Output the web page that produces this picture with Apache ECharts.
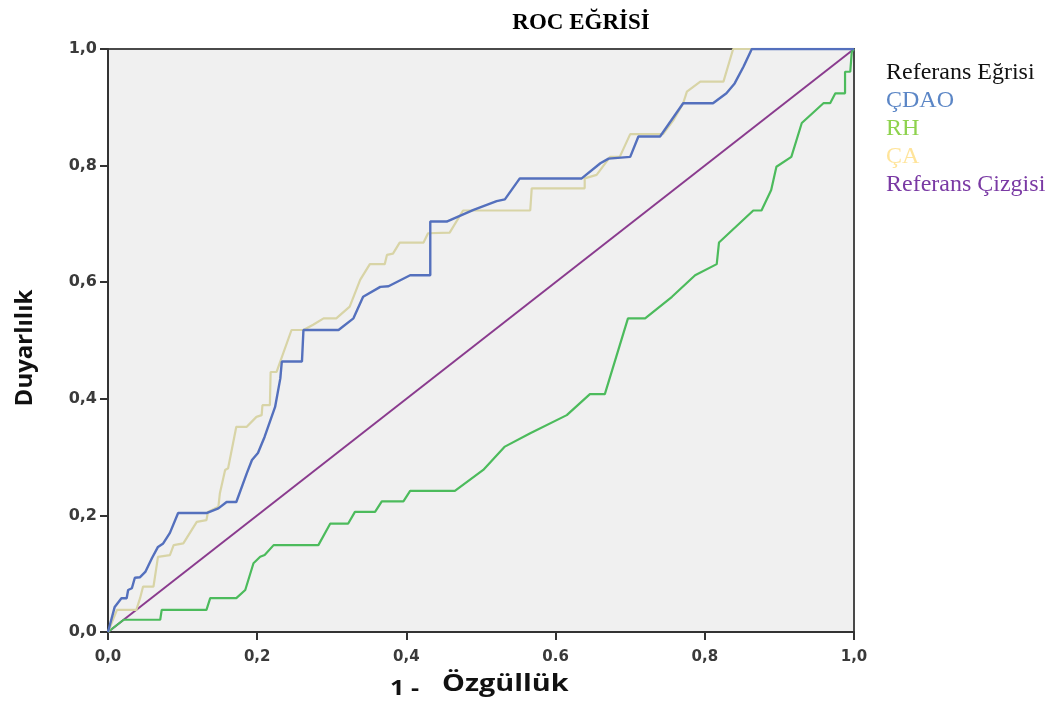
<!DOCTYPE html>
<html>
<head>
<meta charset="utf-8">
<script src="https://cdn.jsdelivr.net/npm/echarts@6/dist/echarts.min.js"></script>
<style>html,body{margin:0;padding:0;background:#fff;}#c{width:1054px;height:704px;}</style>
</head>
<body>
<div id="c"></div>
<script>
const xTickLabels = {0:'0,0', 0.2:'0,2', 0.4:'0,4', 0.6:'0.6', 0.8:'0,8', 1:'1,0'};
const yTickLabels = {0:'0,0', 0.2:'0,2', 0.4:'0,4', 0.6:'0,6', 0.8:'0,8', 1:'1,0'};

const cdaoX = [0, 0.009, 0.018, 0.025, 0.027, 0.032, 0.036, 0.043, 0.05, 0.059, 0.067, 0.074, 0.083, 0.094, 0.132, 0.148, 0.159, 0.172, 0.186, 0.193, 0.201, 0.21, 0.224, 0.231, 0.233, 0.26, 0.262, 0.309, 0.329, 0.342, 0.365, 0.376, 0.405, 0.432, 0.432, 0.454, 0.49, 0.521, 0.532, 0.552, 0.635, 0.66, 0.671, 0.7, 0.711, 0.74, 0.771, 0.811, 0.829, 0.84, 0.852, 0.863, 1];
const cdaoY = [0, 0.043, 0.058, 0.058, 0.072, 0.075, 0.093, 0.094, 0.103, 0.127, 0.146, 0.152, 0.17, 0.204, 0.204, 0.212, 0.223, 0.223, 0.272, 0.295, 0.307, 0.335, 0.386, 0.435, 0.464, 0.464, 0.518, 0.518, 0.538, 0.575, 0.592, 0.593, 0.612, 0.612, 0.704, 0.704, 0.724, 0.739, 0.742, 0.778, 0.778, 0.804, 0.812, 0.815, 0.85, 0.85, 0.907, 0.907, 0.924, 0.941, 0.97, 1, 1];

const caX = [0, 0.012, 0.038, 0.043, 0.047, 0.061, 0.067, 0.083, 0.088, 0.101, 0.119, 0.132, 0.134, 0.148, 0.15, 0.157, 0.161, 0.172, 0.186, 0.199, 0.206, 0.207, 0.217, 0.218, 0.226, 0.231, 0.246, 0.262, 0.275, 0.289, 0.306, 0.324, 0.338, 0.351, 0.371, 0.374, 0.382, 0.391, 0.423, 0.429, 0.458, 0.476, 0.566, 0.568, 0.639, 0.639, 0.655, 0.673, 0.686, 0.7, 0.744, 0.758, 0.771, 0.776, 0.794, 0.825, 0.838, 1];
const caY = [0, 0.038, 0.038, 0.058, 0.078, 0.078, 0.129, 0.132, 0.149, 0.152, 0.189, 0.192, 0.206, 0.215, 0.238, 0.278, 0.281, 0.352, 0.352, 0.369, 0.372, 0.389, 0.389, 0.446, 0.446, 0.464, 0.518, 0.518, 0.527, 0.538, 0.538, 0.558, 0.604, 0.631, 0.631, 0.647, 0.649, 0.668, 0.668, 0.684, 0.685, 0.723, 0.723, 0.761, 0.761, 0.778, 0.784, 0.815, 0.815, 0.854, 0.854, 0.878, 0.907, 0.927, 0.944, 0.944, 1, 1];

const rhX = [0, 0.021, 0.07, 0.072, 0.132, 0.137, 0.172, 0.184, 0.195, 0.204, 0.21, 0.222, 0.282, 0.298, 0.322, 0.331, 0.358, 0.367, 0.396, 0.405, 0.465, 0.503, 0.532, 0.566, 0.615, 0.646, 0.666, 0.697, 0.72, 0.756, 0.787, 0.816, 0.819, 0.865, 0.876, 0.889, 0.896, 0.916, 0.93, 0.959, 0.968, 0.975, 0.988, 0.988, 0.995, 0.997, 1];
const rhY = [0, 0.021, 0.021, 0.038, 0.038, 0.058, 0.058, 0.072, 0.118, 0.129, 0.132, 0.149, 0.149, 0.186, 0.186, 0.206, 0.206, 0.224, 0.224, 0.242, 0.242, 0.278, 0.318, 0.341, 0.372, 0.408, 0.408, 0.538, 0.538, 0.575, 0.612, 0.631, 0.668, 0.723, 0.723, 0.758, 0.798, 0.815, 0.873, 0.907, 0.907, 0.924, 0.924, 0.961, 0.961, 0.995, 1];

const refX = [0, 1];
const refY = [0, 1];

const titleText = 'ROC EĞRİSİ';
const xNamePrefix = '1 -';
const xNameMain = 'Özgüllük';
const yNameText = 'Duyarlılık';
const legendItems = ['Referans Eğrisi', 'ÇDAO', 'RH', 'ÇA', 'Referans Çizgisi'];
const legendColors = ['#111111', '#5b86c6', '#8ed24e', '#ffe49a', '#7a3aa4'];

function pairs(xs, ys) { return xs.map((x, i) => [x, ys[i]]); }

const chart = echarts.init(document.getElementById('c'));
const graphics = [
  { type: 'text', x: 581, y: 23,
    style: { text: titleText, font: 'bold 23px "Liberation Serif"', fill: '#000', textAlign: 'center', textVerticalAlign: 'middle' } },
  { type: 'text', x: 390, y: 689, scaleX: 1.2,
    style: { text: xNamePrefix, font: 'bold 21px "Open Sans"', fill: '#111', textAlign: 'left', textVerticalAlign: 'middle' } },
  { type: 'text', x: 442, y: 684, scaleX: 1.2,
    style: { text: xNameMain, font: 'bold 24px "Open Sans"', fill: '#111', textAlign: 'left', textVerticalAlign: 'middle' } },
  { type: 'text', x: 25, y: 348, rotation: Math.PI / 2,
    style: { text: yNameText, font: 'bold 24px "Open Sans"', fill: '#111', textAlign: 'center', textVerticalAlign: 'middle' } }
];
legendItems.forEach((t, i) => {
  graphics.push({
    type: 'text', x: 886, y: 73 + i * 28,
    style: { text: t, font: '24px "Liberation Serif"', fill: legendColors[i], textAlign: 'left', textVerticalAlign: 'middle' }
  });
});

const lineBase = { type: 'line', showSymbol: false, symbol: 'none', animation: false, smooth: false };

chart.setOption({
  backgroundColor: '#ffffff',
  animation: false,
  grid: { left: 108, right: 200, top: 49, bottom: 72, show: true, backgroundColor: '#f0f0f0', borderColor: '#4a4a4a', borderWidth: 2 },
  graphic: graphics,
  xAxis: {
    type: 'value', min: 0, max: 1, interval: 0.2,
    splitLine: { show: false },
    axisLine: { show: true, lineStyle: { color: '#333', width: 2 } },
    axisTick: { show: true, length: 8, lineStyle: { color: '#333', width: 2 } },
    axisLabel: { color: '#3a3a3a', fontSize: 15, fontWeight: 'bold', fontFamily: 'DejaVu Sans', margin: 18, formatter: v => xTickLabels[Math.round(v * 10) / 10] }
  },
  yAxis: {
    type: 'value', min: 0, max: 1, interval: 0.2,
    splitLine: { show: false },
    axisLine: { show: true, lineStyle: { color: '#333', width: 2 } },
    axisTick: { show: true, length: 8, lineStyle: { color: '#333', width: 2 } },
    axisLabel: { color: '#3a3a3a', fontSize: 16, fontWeight: 'bold', fontFamily: 'DejaVu Sans', margin: 11, formatter: v => yTickLabels[Math.round(v * 10) / 10] }
  },
  series: [
    Object.assign({}, lineBase, { name: 'Referans Çizgisi', data: pairs(refX, refY), lineStyle: { color: '#8a3b8e', width: 2 }, z: 2 }),
    Object.assign({}, lineBase, { name: 'RH', data: pairs(rhX, rhY), lineStyle: { color: '#4cbb5c', width: 2.2 }, z: 3 }),
    Object.assign({}, lineBase, { name: 'ÇA', data: pairs(caX, caY), lineStyle: { color: '#d8d4a6', width: 2.2 }, z: 4 }),
    Object.assign({}, lineBase, { name: 'ÇDAO', data: pairs(cdaoX, cdaoY), lineStyle: { color: '#5470bd', width: 2.4 }, z: 5 })
  ]
});
</script>
</body>
</html>
